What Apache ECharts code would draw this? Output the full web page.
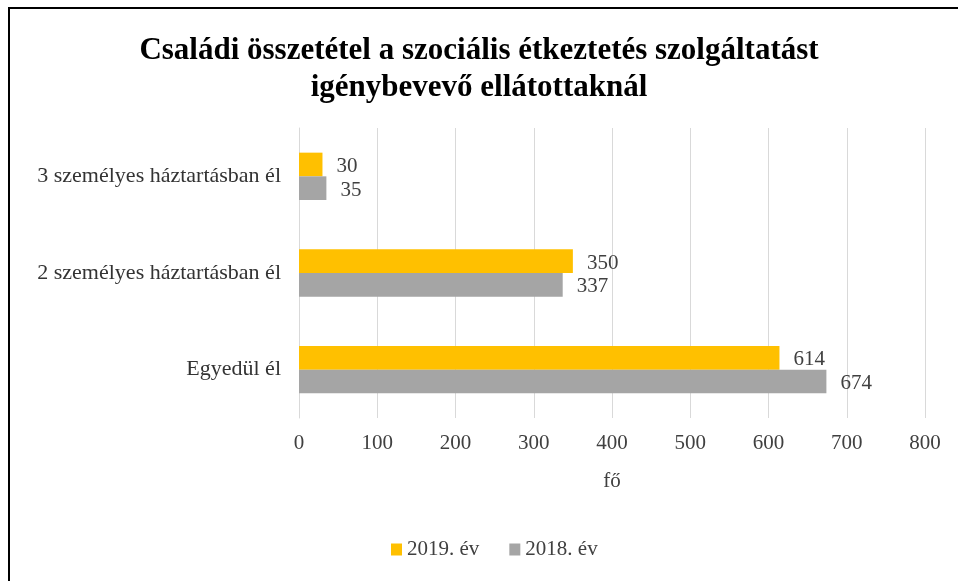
<!DOCTYPE html>
<html><head><meta charset="utf-8">
<script src="https://cdn.jsdelivr.net/npm/echarts@6/dist/echarts.min.js"></script>
<style>
html,body{margin:0;padding:0;background:#fff;overflow:hidden;}
#frame{position:absolute;left:8px;top:7px;width:1000px;height:700px;border-left:2px solid #000;border-top:2px solid #000;box-sizing:border-box;}
#c{position:absolute;left:0;top:0;width:958px;height:581px;}
</style></head>
<body><div id="frame"></div><div id="c"></div>
<script>
const categories = ['Egyedül él', '2 személyes háztartásban él', '3 személyes háztartásban él'];
const values2019 = [614, 350, 30];
const values2018 = [674, 337, 35];
const xTicks = {min: 0, max: 800, interval: 100};
const seriesNames = ['2019. év', '2018. év'];

const FONT = '"Liberation Serif", "DejaVu Serif", serif';
const chart = echarts.init(document.getElementById('c'), null, {renderer: 'canvas'});
chart.setOption({
  backgroundColor: 'transparent',
  animation: false,
  title: {
    text: 'Családi összetétel a szociális étkeztetés szolgáltatást\nigénybevevő ellátottaknál',
    left: 'center', top: 27,
    textStyle: {fontFamily: FONT, fontSize: 31, fontWeight: 'bold', color: '#000', lineHeight: 37}
  },
  legend: {
    bottom: 16, left: 386,
    itemWidth: 11, itemHeight: 12, itemGap: 30,
    icon: 'rect',
    textStyle: {fontFamily: FONT, fontSize: 21, color: '#404040'},
    data: seriesNames
  },
  grid: {left: 299, right: 33, top: 128, bottom: 163, containLabel: false},
  xAxis: {
    type: 'value', min: xTicks.min, max: xTicks.max, interval: xTicks.interval,
    name: 'fő', nameLocation: 'middle', nameGap: 53,
    nameTextStyle: {fontFamily: FONT, fontSize: 21, color: '#404040'},
    axisLine: {show: false}, axisTick: {show: false},
    axisLabel: {fontFamily: FONT, fontSize: 21, color: '#404040', margin: 15},
    splitLine: {lineStyle: {color: '#d9d9d9', width: 1}}
  },
  yAxis: {
    type: 'category', data: categories,
    axisLine: {show: true, lineStyle: {color: '#d9d9d9'}}, axisTick: {show: false},
    axisLabel: {fontFamily: FONT, fontSize: 22, color: '#333333', margin: 18}
  },
  series: [
    {name: seriesNames[0], type: 'bar', data: values2019, barGap: '0%', barCategoryGap: '51%',
     itemStyle: {color: '#FFC000'},
     label: {show: true, position: 'right', distance: 14, offset: [0, 2], fontFamily: FONT, fontSize: 21, color: '#404040'}},
    {name: seriesNames[1], type: 'bar', data: values2018, barGap: '0%', barCategoryGap: '51%',
     itemStyle: {color: '#A5A5A5'},
     label: {show: true, position: 'right', distance: 14, offset: [0, 2], fontFamily: FONT, fontSize: 21, color: '#404040'}}
  ]
});
</script></body></html>
